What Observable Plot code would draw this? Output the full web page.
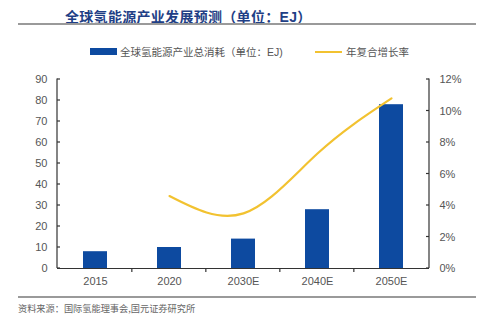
<!DOCTYPE html>
<html>
<head>
<meta charset="utf-8">
<script src="https://cdn.jsdelivr.net/npm/d3@7"></script>
<script src="https://cdn.jsdelivr.net/npm/@observablehq/plot@0.6"></script>
<style>
  html, body { margin: 0; padding: 0; background: #fff; }
  #wrap { position: relative; width: 499px; height: 321px; overflow: hidden;
          font-family: "Liberation Sans", Arial, "Noto Sans CJK SC", sans-serif; }
  #wrap svg { position: absolute; left: 0; top: 0; }
  .title { position: absolute; left: 65px; top: 6px; font-size: 14px; font-weight: bold;
           color: #1f3f86; font-family: "Noto Sans CJK SC", sans-serif; white-space: nowrap; letter-spacing: 0.3px; }
  .title .en { font-family: "Liberation Sans", Arial, sans-serif; }
  .hr { position: absolute; left: 18px; width: 458px; height: 2px; background: #9a9a9a; }
  .legend { position: absolute; top: 44px; font-size: 10.5px; color: #555; white-space: nowrap;
            font-family: "Noto Sans CJK SC", sans-serif; display: flex; align-items: center; }
  .legend .en { font-family: "Liberation Sans", Arial, sans-serif; }
  .sw-bar { display: inline-block; width: 27px; height: 7px; background: #0d4aa0; margin-right: 3px; }
  .sw-line { display: inline-block; width: 27px; height: 2px; background: #f2c230; margin-right: 4px; }
  .source { position: absolute; left: 18px; top: 301px; font-size: 9.2px; color: #666;
            font-family: "Noto Sans CJK SC", sans-serif; white-space: nowrap; }
</style>
</head>
<body>
<div id="wrap">
  <div class="title">全球氢能源产业发展预测（单位：<span class="en">EJ</span>）</div>
  <div class="hr" style="top:23px"></div>
  <div class="legend" style="left:90px"><span class="sw-bar"></span>全球氢能源产业总消耗（单位：<span class="en">EJ)</span></div>
  <div class="legend" style="left:315px"><span class="sw-line"></span>年复合增长率</div>
  <div class="hr" style="top:296px"></div>
  <div class="source">资料来源：国际氢能理事会,国元证券研究所</div>
</div>
<script>
const categories = ["2015", "2020", "2030E", "2040E", "2050E"];
const consumption = [8, 10, 14, 28, 78];
const cagrYears = ["2020", "2030E", "2040E", "2050E"];
const cagr = [4.6, 3.5, 7.3, 10.8];
const leftTicks = [0, 10, 20, 30, 40, 50, 60, 70, 80, 90];
const rightTicks = [0, 2, 4, 6, 8, 10, 12];

const ratio = 90 / 12;
const bars = categories.map((c, i) => ({cat: c, v: consumption[i]}));
const line = cagrYears.map((c, i) => ({cat: c, v: cagr[i] * ratio}));

const plot = Plot.plot({
  width: 499,
  height: 321,
  marginLeft: 57,
  marginRight: 70,
  marginTop: 79,
  marginBottom: 53,
  style: {fontFamily: "Liberation Sans, Arial, sans-serif", fontSize: "11px", color: "#555", background: "transparent"},
  x: {domain: categories, paddingInner: 0.68, paddingOuter: 0.34, label: null},
  y: {domain: [0, 90], label: null},
  marks: [
    Plot.barY(bars, {x: "cat", y: "v", fill: "#0d4aa0"}),
    Plot.line(line, {x: "cat", y: "v", stroke: "#f2c230", strokeWidth: 2.2, curve: "natural"}),
    Plot.axisY(leftTicks, {anchor: "left", tickSize: 0, tickPadding: 10, fill: "#555", fontSize: 11, label: null}),
    Plot.axisY(rightTicks.map(d => d * ratio), {anchor: "right", tickSize: 0, tickPadding: 10, fill: "#555", fontSize: 11,
      tickFormat: d => Math.round(d / ratio) + "%", label: null}),
    Plot.axisX({tickSize: 0, tickPadding: 9, fill: "#555", fontSize: 11, label: null}),
    Plot.ruleY([0], {stroke: "#333", strokeWidth: 1.2})
  ]
});

document.getElementById("wrap").appendChild(plot);

// axis lines and small tick marks, positioned from the plot's own scales
const xs = plot.scale("x");
const ys = plot.scale("y");
const svg = d3.select(plot);
const g = svg.append("g").attr("stroke", "#333").attr("stroke-width", 1.2).attr("fill", "none");
const [r0, r1] = xs.range;
const y0 = ys.apply(0), yTop = ys.apply(90);
g.append("line").attr("x1", r0).attr("x2", r0).attr("y1", y0).attr("y2", yTop - 0.5);
g.append("line").attr("x1", r1).attr("x2", r1).attr("y1", y0).attr("y2", yTop - 0.5);
leftTicks.forEach(t => {
  const y = ys.apply(t);
  g.append("line").attr("x1", r0).attr("x2", r0 + 3).attr("y1", y).attr("y2", y);
});
rightTicks.forEach(t => {
  const y = ys.apply(t * ratio);
  g.append("line").attr("x1", r1).attr("x2", r1 - 3).attr("y1", y).attr("y2", y);
});
categories.slice(1).forEach(c => {
  const x = xs.apply(c) - xs.step * 0.68 / 2;
  g.append("line").attr("x1", x).attr("x2", x).attr("y1", y0).attr("y2", y0 + 4);
});
</script>
</body>
</html>
